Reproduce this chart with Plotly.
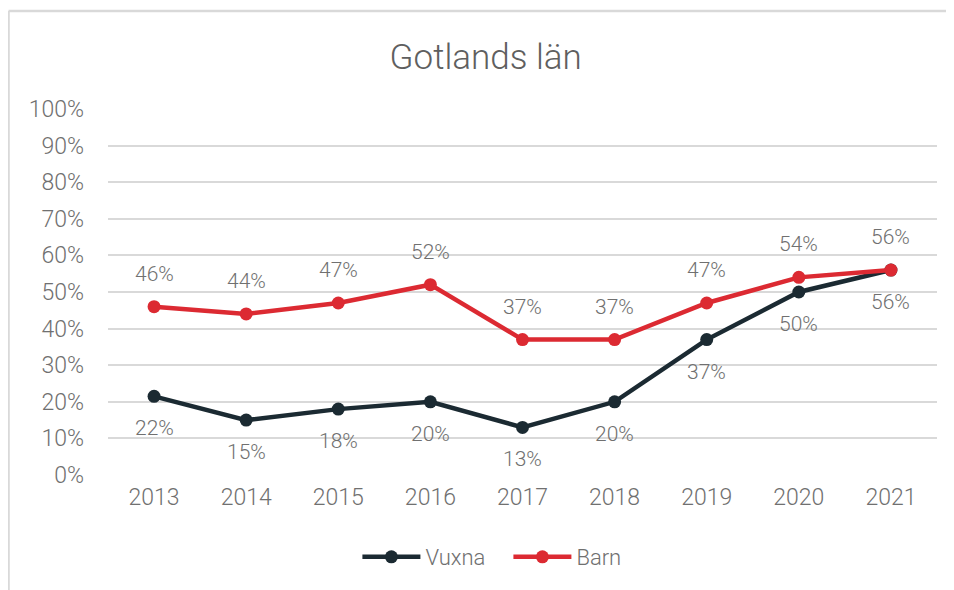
import plotly.graph_objects as go

years = ["2013", "2014", "2015", "2016", "2017", "2018", "2019", "2020", "2021"]
vuxna = [0.215, 0.15, 0.18, 0.20, 0.13, 0.20, 0.37, 0.50, 0.56]
vuxna_labels = ["22%", "15%", "18%", "20%", "13%", "20%", "37%", "50%", "56%"]
barn = [0.46, 0.44, 0.47, 0.52, 0.37, 0.37, 0.47, 0.54, 0.56]
barn_labels = ["46%", "44%", "47%", "52%", "37%", "37%", "47%", "54%", "56%"]
y_ticks = [0, 0.1, 0.2, 0.3, 0.4, 0.5, 0.6, 0.7, 0.8, 0.9, 1.0]

FONT = "Roboto"
C_V = "#1b2a32"
C_B = "#dc2a32"
TXT = "#707070"

fig = go.Figure()
fig.add_trace(go.Scatter(x=years, y=vuxna, name="Vuxna", mode="lines+markers",
                         line=dict(color=C_V, width=4.5), marker=dict(size=13, color=C_V)))
fig.add_trace(go.Scatter(x=years, y=barn, name="Barn", mode="lines+markers",
                         line=dict(color=C_B, width=4.5), marker=dict(size=13, color=C_B)))

annotations = []
for i, (y, t) in enumerate(zip(barn, barn_labels)):
    annotations.append(dict(x=i, y=y, xref="x", yref="y", text=t, showarrow=False, yshift=33,
                            font=dict(size=21, color=TXT, family=FONT, weight=300)))
for i, (y, t) in enumerate(zip(vuxna, vuxna_labels)):
    annotations.append(dict(x=i, y=y, xref="x", yref="y", text=t, showarrow=False, yshift=-32,
                            font=dict(size=21, color=TXT, family=FONT, weight=300)))

fig.update_layout(
    width=946, height=582,
    margin=dict(l=100, r=17, t=101, b=115),
    paper_bgcolor="white", plot_bgcolor="white",
    title=dict(text="Gotlands län", x=0.505, xanchor="center", y=0.916, yanchor="middle",
               font=dict(size=35, color="#5f5f5f", family=FONT, weight=300)),
    xaxis=dict(type="category", range=[-0.5, 8.5], showgrid=False, showline=False, zeroline=False,
               ticks="", ticklabelstandoff=6,
               tickfont=dict(size=23, color=TXT, family=FONT, weight=300)),
    yaxis=dict(range=[0, 1.0], tickvals=y_ticks, tickformat=".0%", showgrid=True,
               gridcolor="#d9d9d9", gridwidth=1.5, zeroline=False, showline=False, ticks="",
               ticklabelstandoff=23,
               tickfont=dict(size=23, color=TXT, family=FONT, weight=300)),
    legend=dict(orientation="h", x=0.483, xanchor="center", y=-0.224, yanchor="middle",
                itemwidth=58, entrywidth=78, entrywidthmode="pixels",
                font=dict(size=22, color=TXT, family=FONT, weight=300)),
    annotations=annotations,
    showlegend=True,
)

fig.add_shape(type="line", xref="paper", yref="paper", x0=-0.12, x1=1.03, y0=1.268, y1=1.268,
              line=dict(color="#d9d9d9", width=2.5))
fig.add_shape(type="line", xref="paper", yref="paper", x0=-0.12, x1=-0.12, y0=1.268, y1=-0.33,
              line=dict(color="#d9d9d9", width=2.5))

fig.write_html("out.html")
